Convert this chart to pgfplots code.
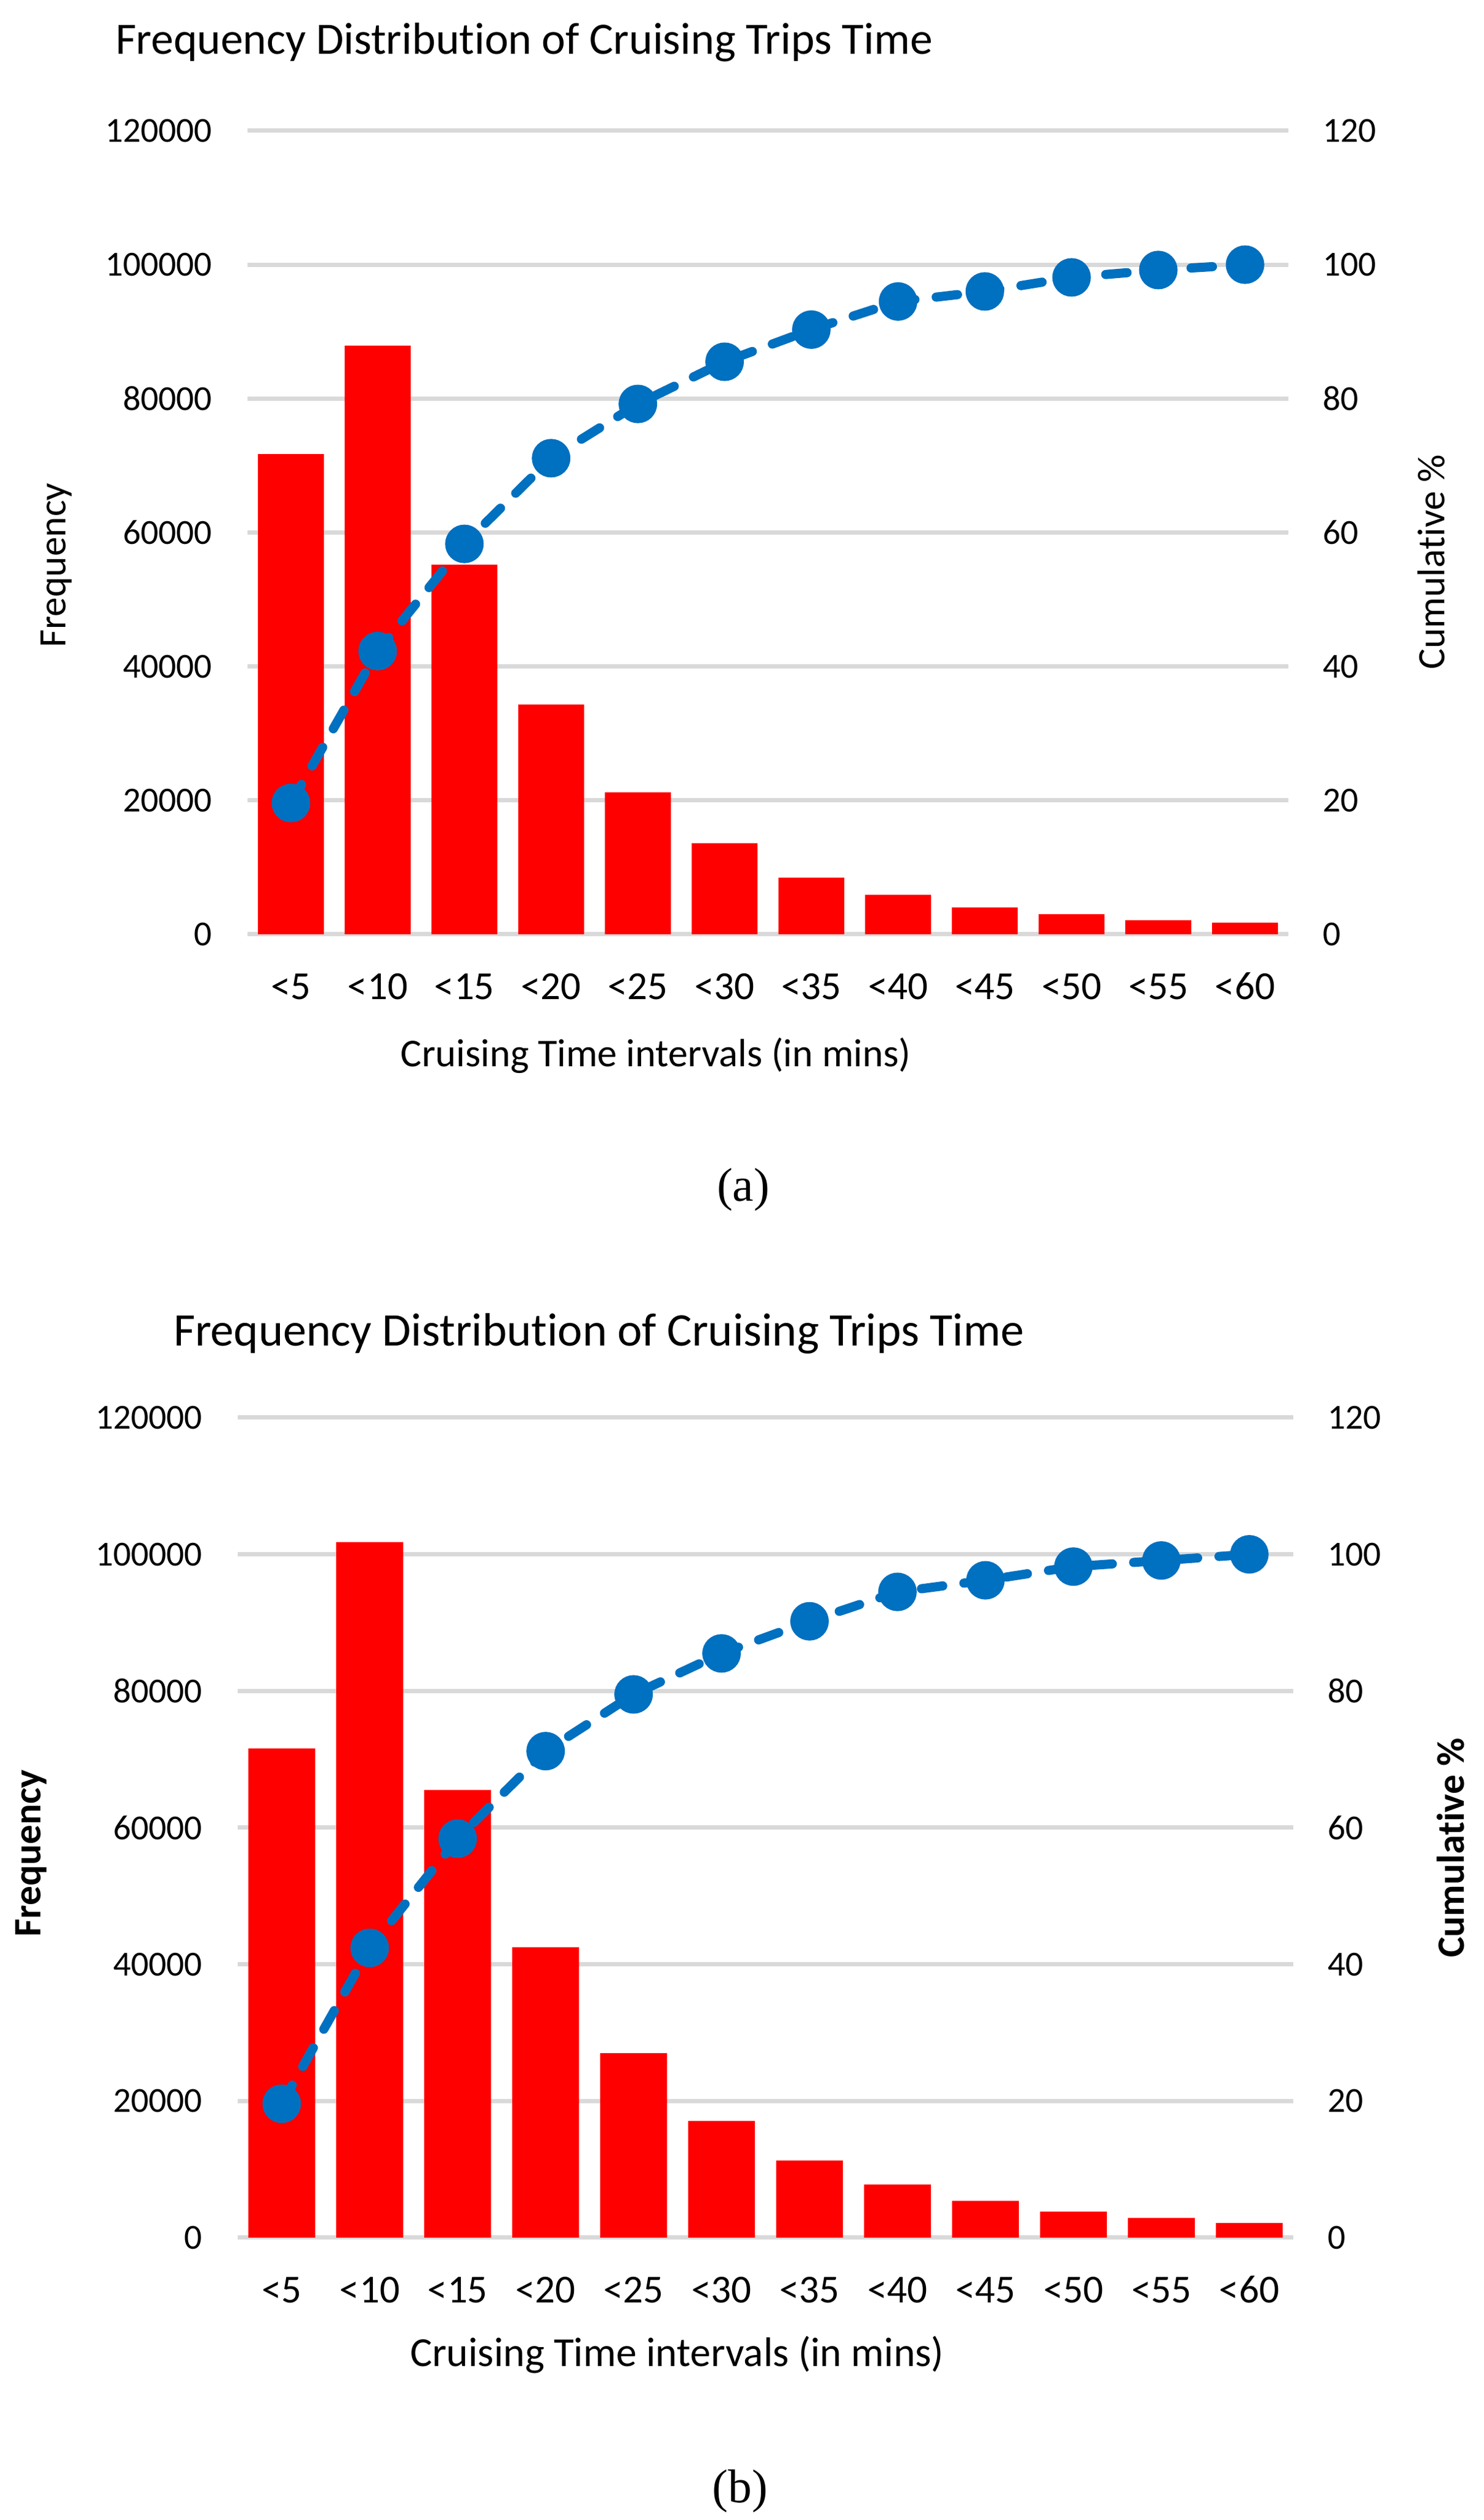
\documentclass[border=0pt]{standalone}
\usepackage{pgfplots}
\pgfplotsset{compat=1.18}
\usepackage{fontspec}
\setmainfont[Ligatures=NoCommon]{Carlito}
\newfontfamily\capfont{Liberation Serif}
\definecolor{barred}{RGB}{255,0,0}
\definecolor{lineblue}{RGB}{0,112,192}
\definecolor{gridgray}{RGB}{217,217,217}

% frequencies and cumulative % per interval (x = 0..11)
\pgfplotsset{
  base/.style={
    scale only axis,
    axis line style={draw=none},
    tick style={draw=none},
    xmin=-0.5, xmax=11.5,
    ymin=0,
    clip=false,
    scaled y ticks=false,
  },
  freqaxis/.style={
    base,
    ymax=120000,
    ytick={0,20000,40000,60000,80000,100000,120000},
    yticklabels={0,20000,40000,60000,80000,100000,120000},
    yticklabel style={font=\fontsize{11.5}{13}\selectfont, anchor=east, inner sep=0pt, xshift=-11.4pt},
    xtick={0,...,11},
    xticklabels={<5,<10,<15,<20,<25,<30,<35,<40,<45,<50,<55,<60},
    xticklabel style={font=\fontsize{13}{15}\selectfont, anchor=base, inner sep=0pt, yshift=-21.4pt},
    ymajorgrids,
    grid style={draw=gridgray, line width=1.4pt},
  },
  cumaxis/.style={
    base,
    ymax=120,
    ytick={0,20,40,60,80,100,120},
    yticklabels={0,20,40,60,80,100,120},
    yticklabel pos=right,
    yticklabel style={font=\fontsize{11.5}{13}\selectfont, anchor=west, inner sep=0pt, xshift=11pt},
    xtick=\empty,
  },
  cumline/.style={
    color=lineblue, line width=3pt, line cap=round,
    dash pattern=on 7pt off 7pt,
    mark=*, mark size=4.8pt, mark options={solid, fill=lineblue, draw=lineblue},
  },
}

\begin{document}
\begin{tikzpicture}
\useasboundingbox (0,0) rectangle (485.4pt,824.8pt);

% ---------- (a) ----------
\begin{axis}[freqaxis, at={(81pt,519pt)}, anchor=south west,
  width=340.6pt, height=263pt]
  \addplot[ybar, bar width=0.76, fill=barred, draw=none] coordinates {
    (0,71700) (1,87900) (2,55200) (3,34300) (4,21200) (5,13600)
    (6,8450) (7,5900) (8,4000) (9,3000) (10,2100) (11,1750)
  };
\end{axis}
\begin{axis}[cumaxis, at={(81pt,519pt)}, anchor=south west,
  width=340.6pt, height=263pt]
  \addplot[cumline] coordinates {
    (0,19.6) (1,42.3) (2,58.3) (3,71.1) (4,79.2) (5,85.5)
    (6,90.3) (7,94.5) (8,96.0) (9,98.1) (10,99.2) (11,100)
  };
\end{axis}
\node[anchor=base west, inner sep=0pt, font=\fontsize{14.7}{18}\selectfont] at (37.6pt,807pt)
  {Frequency Distribution of Cruising Trips Time};
\node[anchor=base, inner sep=0pt, font=\fontsize{12.9}{15}\selectfont] at (214.6pt,475.6pt)
  {Cruising Time intervals (in mins)};
\node[rotate=90, inner sep=0pt, font=\fontsize{12.7}{15}\selectfont] at (18.4pt,639.8pt) {Frequency};
\node[rotate=90, inner sep=0pt, font=\fontsize{12.7}{15}\selectfont] at (468.4pt,640.8pt) {Cumulative \%};
\node[inner sep=0pt, font=\capfont\fontsize{15.5}{18}\selectfont] at (243.2pt,435.4pt) {(a)};

% ---------- (b) ----------
\begin{axis}[freqaxis, at={(77.8pt,92.4pt)}, anchor=south west,
  width=345.4pt, height=268.4pt]
  \addplot[ybar, bar width=0.76, fill=barred, draw=none] coordinates {
    (0,71600) (1,101800) (2,65500) (3,42500) (4,27000) (5,17100)
    (6,11300) (7,7800) (8,5400) (9,3800) (10,2900) (11,2150)
  };
\end{axis}
\begin{axis}[cumaxis, at={(77.8pt,92.4pt)}, anchor=south west,
  width=345.4pt, height=268.4pt]
  \addplot[cumline] coordinates {
    (0,19.6) (1,42.4) (2,58.4) (3,71.2) (4,79.5) (5,85.5)
    (6,90.2) (7,94.5) (8,96.2) (9,98.2) (10,99.1) (11,100)
  };
\end{axis}
\node[anchor=base west, inner sep=0pt, font=\fontsize{15.3}{18}\selectfont] at (56.6pt,384.2pt)
  {Frequency Distribution of Cruising Trips Time};
\node[anchor=base, inner sep=0pt, font=\fontsize{13.5}{15}\selectfont] at (221.6pt,50.2pt)
  {Cruising Time intervals (in mins)};
\node[rotate=90, inner sep=0pt, font=\bfseries\fontsize{12.7}{15}\selectfont] at (10.2pt,218.2pt) {Frequency};
\node[rotate=90, inner sep=0pt, font=\bfseries\fontsize{12.7}{15}\selectfont] at (474.6pt,220pt) {Cumulative \%};
\node[inner sep=0pt, font=\capfont\fontsize{15.5}{18}\selectfont] at (242.2pt,9.4pt) {(b)};
\end{tikzpicture}
\end{document}
